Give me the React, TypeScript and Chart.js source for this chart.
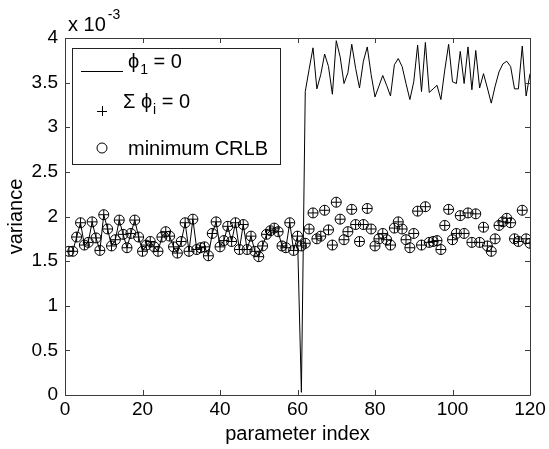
import React, { useEffect, useRef } from "react";
import { Chart, registerables } from "chart.js";

Chart.register(...registerables);

const FONT = '"Liberation Sans", Arial, Helvetica, sans-serif';
const FS = 19;
const LFS = 20;

// parameter indices (x categories)
const parameterIndex = Array.from({ length: 120 }, (_, i) => i + 1);

// variance values in units of 1e-3
const sumPhiValues = [
  1.61, 1.61, 1.77, 1.93, 1.68, 1.71, 1.94, 1.76, 1.62, 2.02,
  1.86, 1.67, 1.74, 1.96, 1.80, 1.65, 1.81, 1.96, 1.77, 1.61,
  1.68, 1.72, 1.66, 1.61, 1.77, 1.83, 1.78, 1.66, 1.59, 1.72,
  1.93, 1.61, 1.97, 1.63, 1.65, 1.66, 1.56, 1.81, 1.94, 1.66,
  1.73, 1.89, 1.72, 1.93, 1.63, 1.91, 1.63, 1.78, 1.61, 1.55,
  1.67, 1.80, 1.84, 1.87, 1.83, 1.67, 1.65, 1.93, 1.62, 1.78,
  1.67, 1.70, 1.86, 2.04, 1.75, 1.78, 2.07, 1.85, 1.68, 2.16,
  1.97, 1.74, 1.83, 2.08, 1.91, 1.72, 1.91, 2.09, 1.86, 1.67,
  1.75, 1.81, 1.74, 1.68, 1.87, 1.94, 1.86, 1.74, 1.65, 1.81,
  2.06, 1.68, 2.11, 1.71, 1.72, 1.73, 1.63, 1.90, 2.08, 1.74,
  1.81, 2.01, 1.81, 2.04, 1.71, 2.03, 1.71, 1.88, 1.67, 1.61,
  1.75, 1.90, 1.94, 1.98, 1.93, 1.75, 1.72, 2.07, 1.75, 1.70,
];

const minCrlbValues = [
  1.61, 1.61, 1.77, 1.93, 1.68, 1.71, 1.94, 1.76, 1.62, 2.02,
  1.86, 1.67, 1.74, 1.96, 1.80, 1.65, 1.81, 1.96, 1.77, 1.61,
  1.68, 1.72, 1.66, 1.61, 1.77, 1.83, 1.78, 1.66, 1.59, 1.72,
  1.93, 1.61, 1.97, 1.63, 1.65, 1.66, 1.56, 1.81, 1.94, 1.66,
  1.73, 1.89, 1.72, 1.93, 1.63, 1.91, 1.63, 1.78, 1.61, 1.55,
  1.67, 1.80, 1.84, 1.87, 1.83, 1.67, 1.65, 1.93, 1.62, 1.78,
  1.67, 1.70, 1.86, 2.04, 1.75, 1.78, 2.07, 1.85, 1.68, 2.16,
  1.97, 1.74, 1.83, 2.08, 1.91, 1.72, 1.91, 2.09, 1.86, 1.67,
  1.75, 1.81, 1.74, 1.68, 1.87, 1.94, 1.86, 1.74, 1.65, 1.81,
  2.06, 1.68, 2.11, 1.71, 1.72, 1.73, 1.63, 1.90, 2.08, 1.74,
  1.81, 2.01, 1.81, 2.04, 1.71, 2.03, 1.71, 1.88, 1.67, 1.61,
  1.75, 1.90, 1.94, 1.98, 1.93, 1.75, 1.72, 2.07, 1.75, 1.70,
];

const phi1Values = [
  1.61, 1.61, 1.77, 1.93, 1.68, 1.71, 1.94, 1.76, 1.62, 2.02,
  1.86, 1.67, 1.74, 1.96, 1.80, 1.65, 1.81, 1.96, 1.77, 1.61,
  1.68, 1.72, 1.66, 1.61, 1.77, 1.83, 1.78, 1.66, 1.59, 1.72,
  1.93, 1.61, 1.97, 1.63, 1.65, 1.66, 1.56, 1.81, 1.94, 1.66,
  1.73, 1.89, 1.72, 1.93, 1.63, 1.91, 1.63, 1.78, 1.61, 1.55,
  1.67, 1.80, 1.84, 1.87, 1.83, 1.67, 1.65, 1.93, 1.62, 1.78,
  0.03, 3.40, 3.65, 3.89, 3.43, 3.59, 3.82, 3.68, 3.37, 3.97,
  3.79, 3.49, 3.61, 3.93, 3.66, 3.44, 3.74, 3.90, 3.59, 3.34,
  3.46, 3.58, 3.47, 3.35, 3.70, 3.77, 3.68, 3.49, 3.31, 3.51,
  3.92, 3.40, 3.95, 3.39, 3.43, 3.47, 3.31, 3.64, 3.93, 3.51,
  3.49, 3.85, 3.49, 3.90, 3.42, 3.86, 3.44, 3.60, 3.44, 3.27,
  3.46, 3.62, 3.71, 3.74, 3.68, 3.43, 3.43, 3.91, 3.35, 3.60,
];

const xTickValues = [0, 20, 40, 60, 80, 100, 120];
const yTickValues = [0, 0.5, 1, 1.5, 2, 2.5, 3, 3.5, 4];

const xTitle = "parameter index";
const yTitle = "variance";

type Part = { t: string; sub?: boolean };
const legendEntries: { kind: "line" | "cross" | "circle"; parts: Part[] }[] = [
  { kind: "line", parts: [{ t: "\u03D5" }, { t: "1", sub: true }, { t: " = 0" }] },
  { kind: "cross", parts: [{ t: "\u03A3 \u03D5" }, { t: "i", sub: true }, { t: " = 0" }] },
  { kind: "circle", parts: [{ t: "minimum CRLB" }] },
];

const toPoints = (vals: number[]) => vals.map((v, i) => ({ x: parameterIndex[i], y: v }));

const AXIS_COLOR = "#3c3c3c";

function drawParts(ctx: CanvasRenderingContext2D, parts: Part[], x: number, y: number) {
  let cx = x;
  for (const p of parts) {
    if (p.sub) {
      ctx.font = `${Math.round(LFS * 0.72)}px ${FONT}`;
      ctx.fillText(p.t, cx + 1, y + 6);
      cx += ctx.measureText(p.t).width + 1;
    } else {
      ctx.font = `${LFS}px ${FONT}`;
      ctx.fillText(p.t, cx, y);
      cx += ctx.measureText(p.t).width;
    }
  }
}

const matlabPlugin = {
  id: "matlabFrame",
  afterDraw(chart: any) {
    const { ctx, chartArea: a, scales } = chart;
    const xs = scales.x;
    const ys = scales.y;
    ctx.save();
    ctx.strokeStyle = AXIS_COLOR;
    ctx.lineWidth = 1;
    ctx.beginPath();
    ctx.rect(Math.round(a.left) + 0.5, Math.round(a.top) + 0.5, Math.round(a.right - a.left), Math.round(a.bottom - a.top));
    ctx.stroke();
    const tl = 5;
    ctx.beginPath();
    for (const v of xTickValues) {
      const px = Math.round(xs.getPixelForValue(v)) + 0.5;
      ctx.moveTo(px, a.bottom);
      ctx.lineTo(px, a.bottom - tl);
      ctx.moveTo(px, a.top);
      ctx.lineTo(px, a.top + tl);
    }
    for (const v of yTickValues) {
      const py = Math.round(ys.getPixelForValue(v)) + 0.5;
      ctx.moveTo(a.left, py);
      ctx.lineTo(a.left + tl, py);
      ctx.moveTo(a.right, py);
      ctx.lineTo(a.right - tl, py);
    }
    ctx.stroke();

    // legend box
    const lx = a.left + 7;
    const ly = a.top + 10;
    const lw = 208;
    const lh = 116;
    ctx.fillStyle = "#fff";
    ctx.fillRect(lx, ly, lw, lh);
    ctx.strokeStyle = "#222";
    ctx.strokeRect(lx + 0.5, ly + 0.5, lw, lh);
    ctx.fillStyle = "#000";
    ctx.strokeStyle = "#000";
    ctx.textBaseline = "alphabetic";
    ctx.textAlign = "left";
    const rows = [
      { sym: ly + 23, text: ly + 20, tx: lx + 56 },
      { sym: ly + 63, text: ly + 60, tx: lx + 51 },
      { sym: ly + 100, text: ly + 107, tx: lx + 56 },
    ];
    legendEntries.forEach((e, i) => {
      const r = rows[i];
      const sx = lx + 30;
      ctx.beginPath();
      if (e.kind === "line") {
        ctx.moveTo(lx + 9, r.sym + 0.5);
        ctx.lineTo(lx + 51, r.sym + 0.5);
      } else if (e.kind === "cross") {
        ctx.moveTo(sx - 5, r.sym + 0.5);
        ctx.lineTo(sx + 5, r.sym + 0.5);
        ctx.moveTo(sx + 0.5, r.sym - 5);
        ctx.lineTo(sx + 0.5, r.sym + 5);
      } else {
        ctx.arc(sx, r.sym, 5, 0, Math.PI * 2);
      }
      ctx.lineWidth = 1;
      ctx.stroke();
      drawParts(ctx, e.parts, r.tx, r.text);
    });

    // exponent label
    ctx.font = `${LFS}px ${FONT}`;
    ctx.fillText("x 10", a.left + 3, a.top - 7);
    const w = ctx.measureText("x 10").width;
    ctx.font = `${Math.round(LFS * 0.72)}px ${FONT}`;
    ctx.fillText("-3", a.left + 3 + w + 2, a.top - 19);

    // axis titles
    ctx.font = `${LFS}px ${FONT}`;
    ctx.textAlign = "center";
    ctx.fillText(xTitle, (a.left + a.right) / 2, a.bottom + 45);
    ctx.save();
    ctx.translate(a.left - 43, (a.top + a.bottom) / 2);
    ctx.rotate(-Math.PI / 2);
    ctx.fillText(yTitle, 0, 0);
    ctx.restore();
    ctx.restore();
  },
};

export default function App() {
  const ref = useRef<HTMLCanvasElement | null>(null);
  useEffect(() => {
    if (!ref.current) return;
    const chart = new Chart(ref.current, {
      type: "scatter",
      data: {
        datasets: [
          {
            label: "phi1",
            data: toPoints(phi1Values),
            showLine: true,
            borderColor: "#000",
            borderWidth: 1,
            pointRadius: 0,
            tension: 0,
            fill: false,
          },
          {
            label: "sumphi",
            data: toPoints(sumPhiValues),
            pointStyle: "cross",
            pointRadius: 5,
            borderColor: "#000",
            borderWidth: 1,
            showLine: false,
          },
          {
            label: "crlb",
            data: toPoints(minCrlbValues),
            pointStyle: "circle",
            pointRadius: 5,
            borderColor: "#000",
            backgroundColor: "rgba(0,0,0,0)",
            borderWidth: 1,
            showLine: false,
          },
        ],
      },
      options: {
        responsive: false,
        animation: false,
        devicePixelRatio: 1,
        layout: { padding: { top: 38, right: 19, left: 0, bottom: 0 } },
        plugins: { legend: { display: false }, tooltip: { enabled: false } },
        scales: {
          x: {
            type: "linear",
            min: 0,
            max: 120,
            afterBuildTicks: (s: any) => {
              s.ticks = xTickValues.map((v) => ({ value: v }));
            },
            ticks: {
              color: "#000",
              font: { family: FONT, size: FS },
              padding: 3,
              maxRotation: 0,
              autoSkip: false,
              callback: (v: any) => String(v),
            },
            grid: { display: false, drawTicks: false },
            border: { display: false },
            afterFit: (s: any) => {
              s.height = 54;
            },
          },
          y: {
            type: "linear",
            min: 0,
            max: 4,
            afterBuildTicks: (s: any) => {
              s.ticks = yTickValues.map((v) => ({ value: v }));
            },
            ticks: {
              color: "#000",
              font: { family: FONT, size: FS },
              padding: 7,
              autoSkip: false,
              callback: (v: any) => String(v),
            },
            grid: { display: false, drawTicks: false },
            border: { display: false },
            afterFit: (s: any) => {
              s.width = 65;
            },
          },
        },
      },
      plugins: [matlabPlugin],
    });
    return () => chart.destroy();
  }, []);
  return (
    <div style={{ position: "fixed", left: 0, top: 0, width: 549, height: 449, background: "#fff" }}>
      <canvas ref={ref} width={549} height={449} style={{ display: "block" }} />
    </div>
  );
}
